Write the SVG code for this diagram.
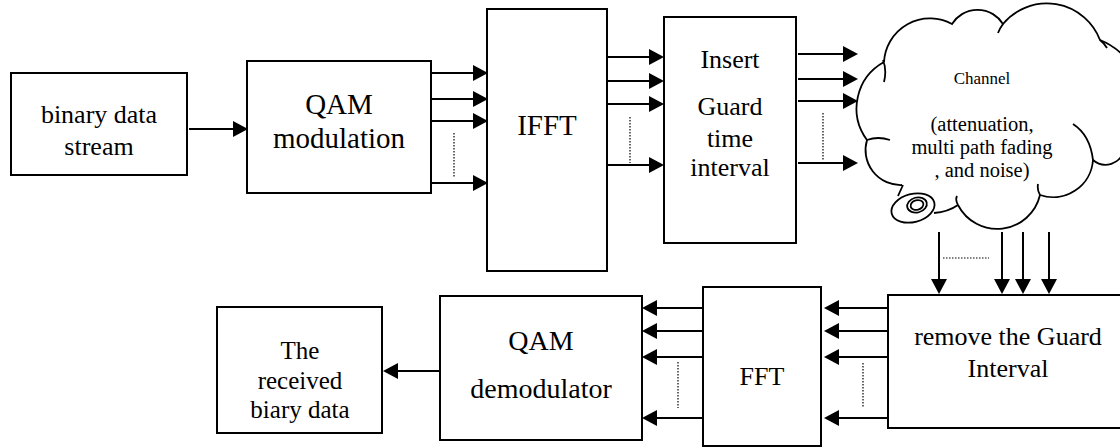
<svg xmlns="http://www.w3.org/2000/svg" width="1120" height="448" viewBox="0 0 1120 448">
<style>
.box{fill:#fff;stroke:#000;stroke-width:2}
.t{font-family:"Liberation Serif","Times New Roman",serif;fill:#000;text-anchor:middle}
.ar{stroke:#000;stroke-width:2;fill:none;marker-end:url(#ah)}
.dot{stroke:#000;stroke-width:1.2;stroke-dasharray:1.5 1.5;fill:none}
.cl{stroke:#000;stroke-width:1.8;fill:none}
</style>
<defs>
<marker id="ah" viewBox="0 0 15 16" refX="13" refY="8" markerWidth="15" markerHeight="16" markerUnits="userSpaceOnUse" orient="auto">
<path d="M0,0 L15,8 L0,16 z" fill="#000"/>
</marker>
</defs>
<rect width="1120" height="448" fill="#fff"/>
<g id="binary">
<rect class="box" x="11" y="73" width="176" height="102"/>
<text class="t" x="99" y="123" font-size="26">binary data</text>
<text class="t" x="99" y="155" font-size="26">stream</text>
</g>
<g id="qam-mod">
<rect class="box" x="247" y="61" width="184" height="132"/>
<text class="t" x="339" y="114" font-size="29">QAM</text>
<text class="t" x="339" y="148" font-size="29">modulation</text>
</g>
<g id="ifft">
<rect class="box" x="487" y="9" width="120" height="262"/>
<text class="t" x="547" y="135" font-size="29">IFFT</text>
</g>
<g id="insert">
<rect class="box" x="664" y="17" width="132" height="226"/>
<text class="t" x="730" y="68" font-size="26">Insert</text>
<text class="t" x="730" y="115" font-size="26">Guard</text>
<text class="t" x="730" y="147" font-size="26">time</text>
<text class="t" x="730" y="176" font-size="26">interval</text>
</g>
<g id="channel">
<path class="cl" d="M884 62 A46 46 0 0 1 952 24 A30 30 0 0 1 1003 24 A57 57 0 0 1 1100 40 A68 68 0 0 1 1124 150 A19 19 0 0 1 1093 160 A40 40 0 0 1 1040 195 A44 44 0 0 1 958 205"/>
<path class="cl" d="M902 185 A35 35 0 0 1 867 140 A53 53 0 0 1 884 62"/>
<path class="cl" d="M883 60 Q887 70 884 82 M867 140 Q878 136 890 140 M1093 160 Q1090 135 1073 124 M958 205 Q955 200 957 196 M1040 195 Q1037 190 1038 184 M1003 24 Q1000 28 998 33 M1100 40 Q1104 43 1107 48"/>
<path class="cl" d="M958 205 Q948 212 934 213 M898 196 L903 185"/>
<ellipse class="cl" cx="913" cy="208" rx="22" ry="14" transform="rotate(-15 913 208)"/>
<ellipse class="cl" cx="917" cy="205" rx="10" ry="7.5" transform="rotate(-15 917 205)"/>
<ellipse class="cl" cx="917" cy="205" rx="6.5" ry="4.8" transform="rotate(-15 917 205)"/>
<text class="t" x="982" y="84" font-size="17">Channel</text>
<text class="t" x="982" y="131" font-size="20.5">(attenuation,</text>
<text class="t" x="982" y="154" font-size="20.5">multi path fading</text>
<text class="t" x="982" y="177" font-size="20.5">, and noise)</text>
</g>
<g id="remove">
<rect class="box" x="888" y="295" width="240" height="133"/>
<text class="t" x="1008" y="345" font-size="26">remove the Guard</text>
<text class="t" x="1008" y="377" font-size="26">Interval</text>
</g>
<g id="fft">
<rect class="box" x="703" y="287" width="118" height="159"/>
<text class="t" x="762" y="385" font-size="26">FFT</text>
</g>
<g id="qam-demod">
<rect class="box" x="440" y="296" width="202" height="144"/>
<text class="t" x="541" y="350" font-size="28">QAM</text>
<text class="t" x="541" y="398" font-size="28">demodulator</text>
</g>
<g id="received">
<rect class="box" x="217" y="307" width="165" height="126"/>
<text class="t" x="300" y="359" font-size="25">The</text>
<text class="t" x="300" y="389" font-size="25">received</text>
<text class="t" x="300" y="418" font-size="25">biary data</text>
</g>
<g id="connectors">
<path class="ar" d="M189 129 H246"/>
<path class="ar" d="M431 73 H486"/>
<path class="ar" d="M431 99 H486"/>
<path class="ar" d="M431 121 H486"/>
<path class="ar" d="M431 183 H486"/>
<path class="dot" d="M454 133 V178"/>
<path class="ar" d="M607 57 H662"/>
<path class="ar" d="M607 81 H662"/>
<path class="ar" d="M607 104 H662"/>
<path class="ar" d="M607 165 H662"/>
<path class="dot" d="M630 117 V163"/>
<path class="ar" d="M798 54 H856"/>
<path class="ar" d="M798 79 H856"/>
<path class="ar" d="M798 101 H856"/>
<path class="ar" d="M798 163 H856"/>
<path class="dot" d="M823 113 V160"/>
<path class="ar" d="M939 232 V292"/>
<path class="ar" d="M1002 232 V292"/>
<path class="ar" d="M1023 232 V292"/>
<path class="ar" d="M1049 232 V292"/>
<path class="dot" d="M943 258 H989"/>
<path class="ar" d="M887 308 H826"/>
<path class="ar" d="M887 331 H826"/>
<path class="ar" d="M887 357 H826"/>
<path class="ar" d="M887 418 H826"/>
<path class="dot" d="M863 363 V408"/>
<path class="ar" d="M703 308 H644"/>
<path class="ar" d="M703 331 H644"/>
<path class="ar" d="M703 357 H644"/>
<path class="ar" d="M703 418 H644"/>
<path class="dot" d="M678 362 V408"/>
<path class="ar" d="M440 371 H385"/>
</g>
</svg>
